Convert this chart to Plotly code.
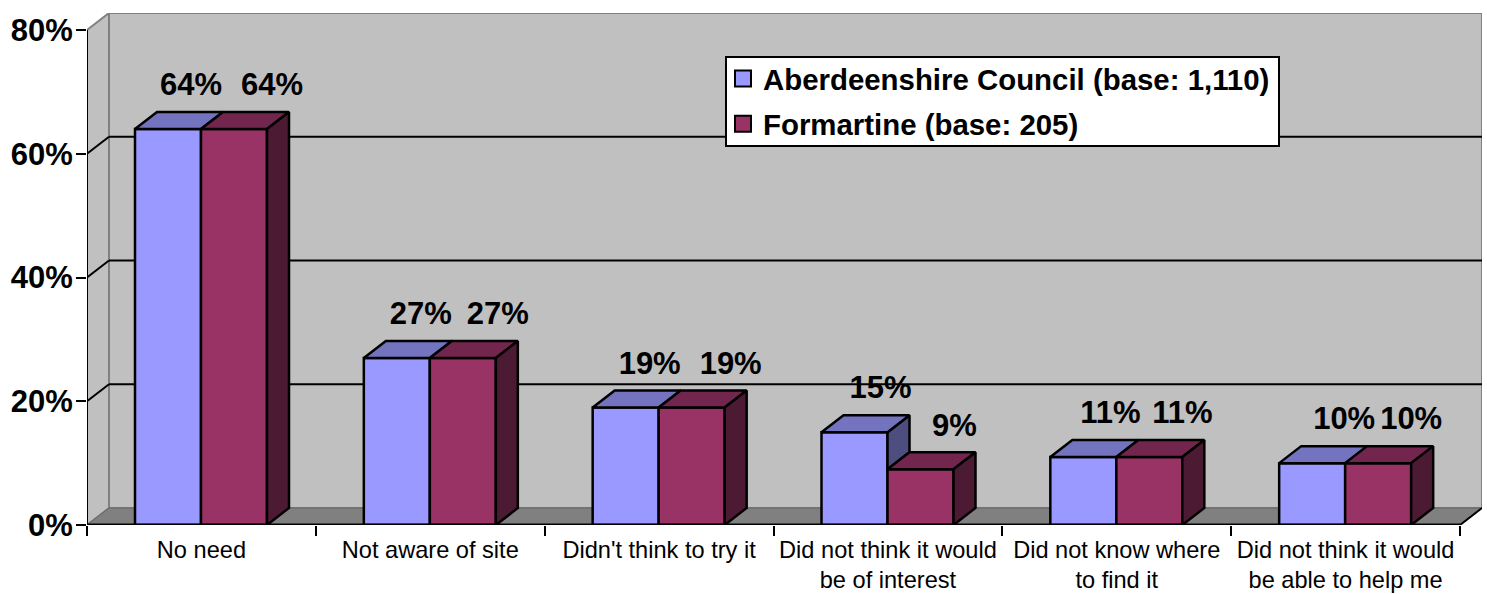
import plotly.graph_objects as go

categories = ["No need", "Not aware of site", "Didn't think to try it",
              "Did not think it would<br>be of interest",
              "Did not know where<br>to find it",
              "Did not think it would<br>be able to help me"]
series_names = ["Aberdeenshire Council (base: 1,110)", "Formartine (base: 205)"]
aberdeenshire = [64, 27, 19, 15, 11, 10]
formartine = [64, 27, 19, 9, 11, 10]
y_ticks = [0, 20, 40, 60, 80]
y_tick_labels = ["0%", "20%", "40%", "60%", "80%"]

# layout geometry
W, H = 1487, 594
L, R, T, B = 87, 5, 13, 69
CAT_PX = 1373 / 6
UNIT_PX = 495 / 80
DX = 22 / CAT_PX
DY = 17 / UNIT_PX
BAR_W = 66 / CAT_PX
GAP = 48 / CAT_PX
N = len(categories)
XMAX = N + DX
YTOP = 80 + DY
# data label nudges, in pixels from the centre of each bar's front face
NUDGE_A = [23, 24, 24, 26, 27, 32]
NUDGE_B = [38, 35, 39, 34, 33, 33]
LABEL_RISE = 24.5 / UNIT_PX

BLUE, BLUE_TOP, BLUE_SIDE = "#9999FF", "#7373BF", "#4D4D80"
PLUM, PLUM_TOP, PLUM_SIDE = "#993366", "#73264D", "#4D1A33"
FONT = "Liberation Sans, Arial, sans-serif"


def poly_trace(xs, ys, color):
    return go.Scatter(x=xs, y=ys, mode="lines", fill="toself", fillcolor=color,
                      line=dict(color="black", width=2.5), showlegend=False,
                      hoverinfo="skip", cliponaxis=False)


def top_face(values, offset):
    xs, ys = [], []
    for i, v in enumerate(values):
        x0 = i + offset
        xs += [x0, x0 + BAR_W, x0 + BAR_W + DX, x0 + DX, x0, None]
        ys += [v, v, v + DY, v + DY, v, None]
    return xs, ys


def side_face(values, lows, offset):
    xs, ys = [], []
    for i, (v, low) in enumerate(zip(values, lows)):
        if v <= low:
            continue
        x0 = i + offset + BAR_W
        xs += [x0, x0 + DX, x0 + DX, x0, x0, None]
        ys += [v, v + DY, low + DY, low, v, None]
    return xs, ys


fig = go.Figure()
idx = list(range(N))
fig.add_trace(go.Bar(x=idx, y=aberdeenshire, width=BAR_W, offset=GAP, showlegend=False,
                     marker=dict(color=BLUE, line=dict(color="black", width=2.5)),
                     hoverinfo="skip"))
fig.add_trace(go.Bar(x=idx, y=formartine, width=BAR_W, offset=GAP + BAR_W, showlegend=False,
                     marker=dict(color=PLUM, line=dict(color="black", width=2.5)),
                     hoverinfo="skip"))

fig.add_trace(poly_trace(*side_face(aberdeenshire, formartine, GAP), BLUE_SIDE))
fig.add_trace(poly_trace(*top_face(aberdeenshire, GAP), BLUE_TOP))
fig.add_trace(poly_trace(*top_face(formartine, GAP + BAR_W), PLUM_TOP))
fig.add_trace(poly_trace(*side_face(formartine, [0] * N, GAP + BAR_W), PLUM_SIDE))

label_font = dict(family=FONT, size=31, color="black")
fig.add_trace(go.Scatter(
    x=[i + GAP + BAR_W / 2 + NUDGE_A[i] / CAT_PX for i in idx],
    y=[v + DY + LABEL_RISE for v in aberdeenshire],
    text=[f"<b>{v}%</b>" for v in aberdeenshire], mode="text",
    textposition="middle center", textfont=label_font, showlegend=False,
    hoverinfo="skip", cliponaxis=False))
fig.add_trace(go.Scatter(
    x=[i + GAP + BAR_W * 1.5 + NUDGE_B[i] / CAT_PX for i in idx],
    y=[v + DY + LABEL_RISE for v in formartine],
    text=[f"<b>{v}%</b>" for v in formartine], mode="text",
    textposition="middle center", textfont=label_font, showlegend=False,
    hoverinfo="skip", cliponaxis=False))

# legend entries: large square swatches
for name, color, group in zip(series_names, [BLUE, PLUM], ["a", "b"]):
    fig.add_trace(go.Scatter(x=[None], y=[None], mode="markers", name=f"<b>{name}</b>",
                             legendgroup=group,
                             marker=dict(symbol="square", size=16, color=color,
                                         line=dict(color="black", width=2))))

WALL, FLOOR, EDGE = "#C0C0C0", "#808080", "#808080"
shapes = []


def path(points):
    return "M" + "L".join(f"{x},{y}" for x, y in points) + "Z"


# back wall, side wall, floor
shapes.append(dict(type="path", layer="below", xref="x", yref="y", fillcolor=WALL,
                   path=path([(DX, DY), (XMAX, DY), (XMAX, YTOP), (DX, YTOP)]),
                   line=dict(color=EDGE, width=2)))
shapes.append(dict(type="path", layer="below", xref="x", yref="y", fillcolor=WALL,
                   path=path([(0, 0), (DX, DY), (DX, YTOP), (0, 80)]),
                   line=dict(color=EDGE, width=2)))
shapes.append(dict(type="path", layer="below", xref="x", yref="y", fillcolor=FLOOR,
                   path=path([(0, 0), (N, 0), (XMAX, DY), (DX, DY)]),
                   line=dict(color="#666666", width=1)))
# gridlines on both walls
for v in y_ticks[1:-1]:
    shapes.append(dict(type="line", layer="below", xref="x", yref="y", x0=0, y0=v, x1=DX, y1=v + DY,
                       line=dict(color="black", width=2)))
    shapes.append(dict(type="line", layer="below", xref="x", yref="y", x0=DX, y0=v + DY, x1=XMAX, y1=v + DY,
                       line=dict(color="black", width=2)))
# axis lines
shapes.append(dict(type="line", layer="above", xref="x", yref="y", x0=0, y0=0, x1=0, y1=80,
                   line=dict(color="black", width=2)))
shapes.append(dict(type="line", layer="above", xref="x", yref="y", x0=0, y0=0, x1=N, y1=0,
                   line=dict(color="black", width=3)))
shapes.append(dict(type="line", layer="above", xref="x", yref="y", x0=N, y0=0, x1=XMAX, y1=DY,
                   line=dict(color="black", width=2)))
# legend box, sized independently of the legend's own row metrics
PW, PH = W - L - R, H - T - B


def px_x(p):
    return (p - L) / PW


def px_y(p):
    return (H - B - p) / PH


shapes.append(dict(type="rect", layer="above", xref="paper", yref="paper",
                   x0=px_x(726), x1=px_x(1279), y0=px_y(146), y1=px_y(57),
                   fillcolor="white", line=dict(color="black", width=2)))

fig.update_layout(
    width=W, height=H, margin=dict(l=L, r=R, t=T, b=B, pad=0, autoexpand=False),
    paper_bgcolor="white", plot_bgcolor="white", barmode="overlay", shapes=shapes,
    font=dict(family=FONT, color="black"),
    xaxis=dict(range=[0, XMAX], showgrid=False, zeroline=False, showline=False,
               tickmode="array", tickvals=[i + 0.5 for i in idx], ticktext=categories,
               ticks="", tickfont=dict(size=23.6), ticklabelstandoff=8,
               minor=dict(tickmode="array", tickvals=list(range(N + 1)), ticks="outside",
                          ticklen=10, tickwidth=2, tickcolor="black", showgrid=False)),
    yaxis=dict(range=[0, YTOP], showgrid=False, zeroline=False, showline=False,
               tickmode="array", tickvals=y_ticks,
               ticktext=[f"<b>{t}</b>" for t in y_tick_labels],
               ticks="outside", ticklen=10, tickwidth=2, tickcolor="black",
               tickfont=dict(size=31), ticklabelstandoff=-3),
    legend=dict(x=px_x(727), y=px_y(53), xanchor="left", yanchor="top",
                bgcolor="rgba(0,0,0,0)", borderwidth=0, indentation=-4,
                font=dict(size=29.4), tracegroupgap=4, itemclick=False, itemdoubleclick=False),
)

fig.write_html("out.html", config={"displayModeBar": False},
               post_script="document.body.style.margin='0';")
